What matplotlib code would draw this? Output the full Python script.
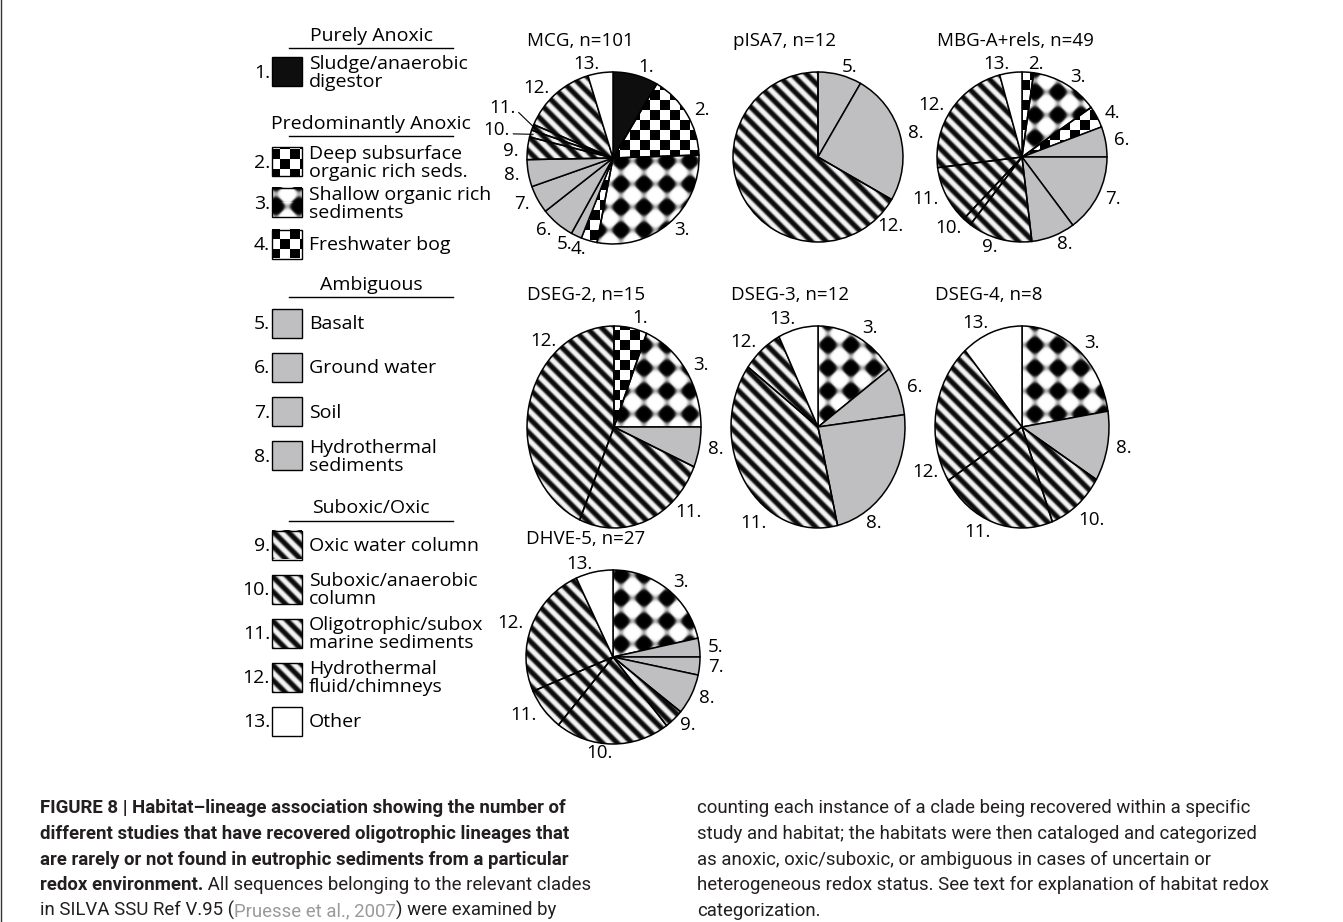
import numpy as np
import matplotlib
matplotlib.use('Agg')
import matplotlib.pyplot as plt
from matplotlib.patches import Rectangle

W, H = 1343, 922

# habitat categories (legend order)
categories = ['1.', '2.', '3.', '4.', '5.', '6.', '7.', '8.', '9.', '10.', '11.', '12.', '13.']
habitats = ['Sludge/anaerobic\ndigestor', 'Deep subsurface\norganic rich seds.',
            'Shallow organic rich\nsediments', 'Freshwater bog', 'Basalt', 'Ground water',
            'Soil', 'Hydrothermal\nsediments', 'Oxic water column',
            'Suboxic/anaerobic\ncolumn', 'Oligotrophic/subox\nmarine sediments',
            'Hydrothermal\nfluid/chimneys', 'Other']
fills = ['black', 'checker', 'diamond', 'checker', 'grey', 'grey', 'grey', 'grey',
         'stripe', 'stripe', 'stripe', 'stripe', 'white']
groups = ['Purely Anoxic', 'Predominantly Anoxic', 'Ambiguous', 'Suboxic/Oxic']
group_members = [[0], [1, 2, 3], [4, 5, 6, 7], [8, 9, 10, 11, 12]]

# slice shares (degrees of arc, clockwise from 12 o'clock)
mcg = [30.6, 57.4, 102.7, 10.9, 7.3, 22.9, 18.8, 18.3, 15.2, 4.8, 3.9, 50.3, 16.9]
pisa7 = [0, 0, 0, 0, 30, 0, 0, 90, 0, 0, 0, 240, 0]
mbga = [0, 7.9, 46.4, 15.0, 0, 20.7, 53.3, 30.0, 44.1, 5.9, 39.5, 82.0, 15.2]
dseg2 = [22.0, 0, 68.0, 0, 0, 0, 0, 23.2, 0, 0, 90.0, 156.8, 0]
dseg3 = [0, 0, 55.0, 0, 0, 28.0, 0, 84.0, 0, 0, 139.4, 27.0, 26.6]
dseg4 = [0, 0, 81.0, 0, 0, 0, 0, 40.3, 0, 38.3, 78.4, 81.2, 40.8]
dhve5 = [0, 0, 77.5, 0, 12.5, 0, 12.0, 27.0, 13.0, 76.7, 28.1, 88.3, 24.9]

caption_left = [
    [('FIGURE 8 | Habitat\u2013lineage association showing the number of', 'bold', '#231f20')],
    [('different studies that have recovered oligotrophic lineages that', 'bold', '#231f20')],
    [('are rarely or not found in eutrophic sediments from a particular', 'bold', '#231f20')],
    [('redox environment.', 'bold', '#231f20'),
     (' All sequences belonging to the relevant clades', 'normal', '#231f20')],
    [('in SILVA SSU Ref V.95 (', 'normal', '#231f20'),
     ('Pruesse et al., 2007', 'normal', '#9a9a9a'),
     (') were examined by', 'normal', '#231f20')],
]
caption_right = [
    'counting each instance of a clade being recovered within a specific',
    'study and habitat; the habitats were then cataloged and categorized',
    'as anoxic, oxic/suboxic, or ambiguous in cases of uncertain or',
    'heterogeneous redox status. See text for explanation of habitat redox',
    'categorization.',
]

plt.rcParams['font.family'] = ['Open Sans', 'DejaVu Sans']
CAP_FONT = 'Roboto'
SOLID = {'black': '#0e0e0e', 'grey': '#bfbfc1', 'white': 'white'}


def pattern(kind, x0, y0, w, h):
    """grey-level texture in page pixel coordinates"""
    X, Y = np.meshgrid(x0 + np.arange(w) + 0.5, y0 + np.arange(h) + 0.5)
    if kind == 'checker':
        return ((np.floor(X / 10) + np.floor(Y / 10)) % 2).astype(float)
    if kind == 'diamond':
        s = np.cos(2 * np.pi * X / 23.0) + np.cos(2 * np.pi * Y / 23.0)
        return 0.5 - 0.5 * np.tanh(2.5 * (s - 0.15))
    c = np.cos(2 * np.pi * (X - Y) / 14.8)
    return 0.5 + 0.5 * np.tanh(1.6 * c)


fig = plt.figure(figsize=(W / 100, H / 100), dpi=100)
base = fig.add_axes([0, 0, 1, 1])
base.set_xlim(0, W)
base.set_ylim(H, 0)
base.axis('off')
base.axvline(1, color='#333333', lw=1)

# ---- legend ----
header_y = [36, 124, 285, 508]
first_item_y = [72, 162, 323, 545]
item_step = [0, 41, 44.3, 44.1]
for g, name in enumerate(groups):
    base.text(371, header_y[g], name, ha='center', va='center', fontsize=14)
    base.plot([289, 453], [header_y[g] + 12.5] * 2, color='black', lw=1)
    for k, i in enumerate(group_members[g]):
        yc = first_item_y[g] + k * item_step[g]
        x0, y0 = 272, yc - 14.5
        if fills[i] in SOLID:
            base.add_patch(Rectangle((x0, y0), 30, 29, facecolor=SOLID[fills[i]],
                                     edgecolor='black', lw=1, zorder=2))
        else:
            base.imshow(pattern(fills[i], x0, y0, 30, 29), cmap='gray', vmin=0, vmax=1,
                        extent=(x0, x0 + 30, y0 + 29, y0), aspect='auto',
                        interpolation='nearest', zorder=1)
            base.add_patch(Rectangle((x0, y0), 30, 29, facecolor='none',
                                     edgecolor='black', lw=1, zorder=2))
        base.text(270, yc + 1, categories[i], ha='right', va='center', fontsize=14)
        base.text(309, yc + 1, habitats[i], ha='left', va='center', fontsize=14,
                  linespacing=0.98)
base.set_xlim(0, W)
base.set_ylim(H, 0)


# ---- pies ----
def draw_pie(title, values, cx, cy, rx, ry, fill_override=None, label_angles=None,
             leaders=()):
    ax = fig.add_axes([(cx - rx) / W, 1 - (cy + ry) / H, 2 * rx / W, 2 * ry / H])
    vals = np.asarray(values, float)
    idx = [i for i in range(len(vals)) if vals[i] > 0]
    kinds = [fills[i] for i in idx]
    if fill_override:
        for i, k in fill_override.items():
            kinds[idx.index(i)] = k
    wedges, texts = ax.pie(vals[idx], labels=[categories[i] for i in idx],
                           colors=[SOLID.get(k, 'none') for k in kinds],
                           startangle=90, counterclock=False, labeldistance=1.1,
                           wedgeprops=dict(edgecolor='black', linewidth=1.1),
                           textprops=dict(fontsize=13.5))
    ax.set_aspect('auto')
    pw, ph = int(round(2 * rx)), int(round(2 * ry))
    for w, k in zip(wedges, kinds):
        if k not in SOLID:
            im = ax.imshow(pattern(k, cx - rx, cy - ry, pw, ph), cmap='gray', vmin=0,
                           vmax=1, extent=(-1, 1, -1, 1), aspect='auto',
                           interpolation='nearest', zorder=0.5)
            im.set_clip_path(w)
    # a few labels sit away from their slice middle in the original
    for i, (a, dist) in (label_angles or {}).items():
        t = texts[idx.index(i)]
        th = np.radians(90 - a)
        t.set_position((dist * np.cos(th), dist * np.sin(th)))
        t.set_ha('left' if np.cos(th) > 0 else 'right')
        if i in leaders:
            w = wedges[idx.index(i)]
            mid = np.radians((w.theta1 + w.theta2) / 2)
            ax.plot([0.97 * np.cos(mid), (dist - 0.04) * np.cos(th)],
                    [0.97 * np.sin(mid), (dist - 0.04) * np.sin(th) - 0.03],
                    color='black', lw=0.8, clip_on=False)
    ax.set_xlim(-1, 1)
    ax.set_ylim(-1, 1)
    base.text(cx - rx, cy - ry - 31, title, ha='left', va='center', fontsize=13.5)


draw_pie('MCG, n=101', mcg, 613, 158, 86, 86,
         label_angles={8: (274, 1.1), 9: (285, 1.24), 10: (297, 1.27)}, leaders=(9, 10))
draw_pie('pISA7, n=12', pisa7, 818, 157, 85, 85, label_angles={11: (139, 1.07)})
draw_pie('MBG-A+rels, n=49', mbga, 1022, 157, 85, 85)
draw_pie('DSEG-2, n=15', dseg2, 614, 427, 87, 101, fill_override={0: 'checker'},
         label_angles={10: (140, 1.1), 11: (322, 1.08)})
draw_pie('DSEG-3, n=12', dseg3, 818, 427, 87, 101,
         label_angles={7: (150, 1.1), 10: (212, 1.12)})
draw_pie('DSEG-4, n=8', dseg4, 1022, 427, 87, 101,
         label_angles={9: (145, 1.12), 11: (245, 1.06)})
draw_pie('DHVE-5, n=27', dhve5, 613, 657, 87, 87)


# ---- caption ----
def rich_line(x, y, parts, size=13.4):
    t = None
    for s, weight, color in parts:
        kw = dict(fontsize=size, fontweight=weight, color=color, family=CAP_FONT,
                  ha='left', va='bottom')
        if t is None:
            t = base.text(x, y, s, **kw)
        else:
            t = base.annotate(s, xy=(1, 0), xycoords=t, **kw)


for k, parts in enumerate(caption_left):
    rich_line(40, 817 + k * 25.75, parts)
for k, s in enumerate(caption_right):
    rich_line(697, 817 + k * 25.75, [(s, 'normal', '#231f20')])

fig.savefig('out.png', dpi=100)
